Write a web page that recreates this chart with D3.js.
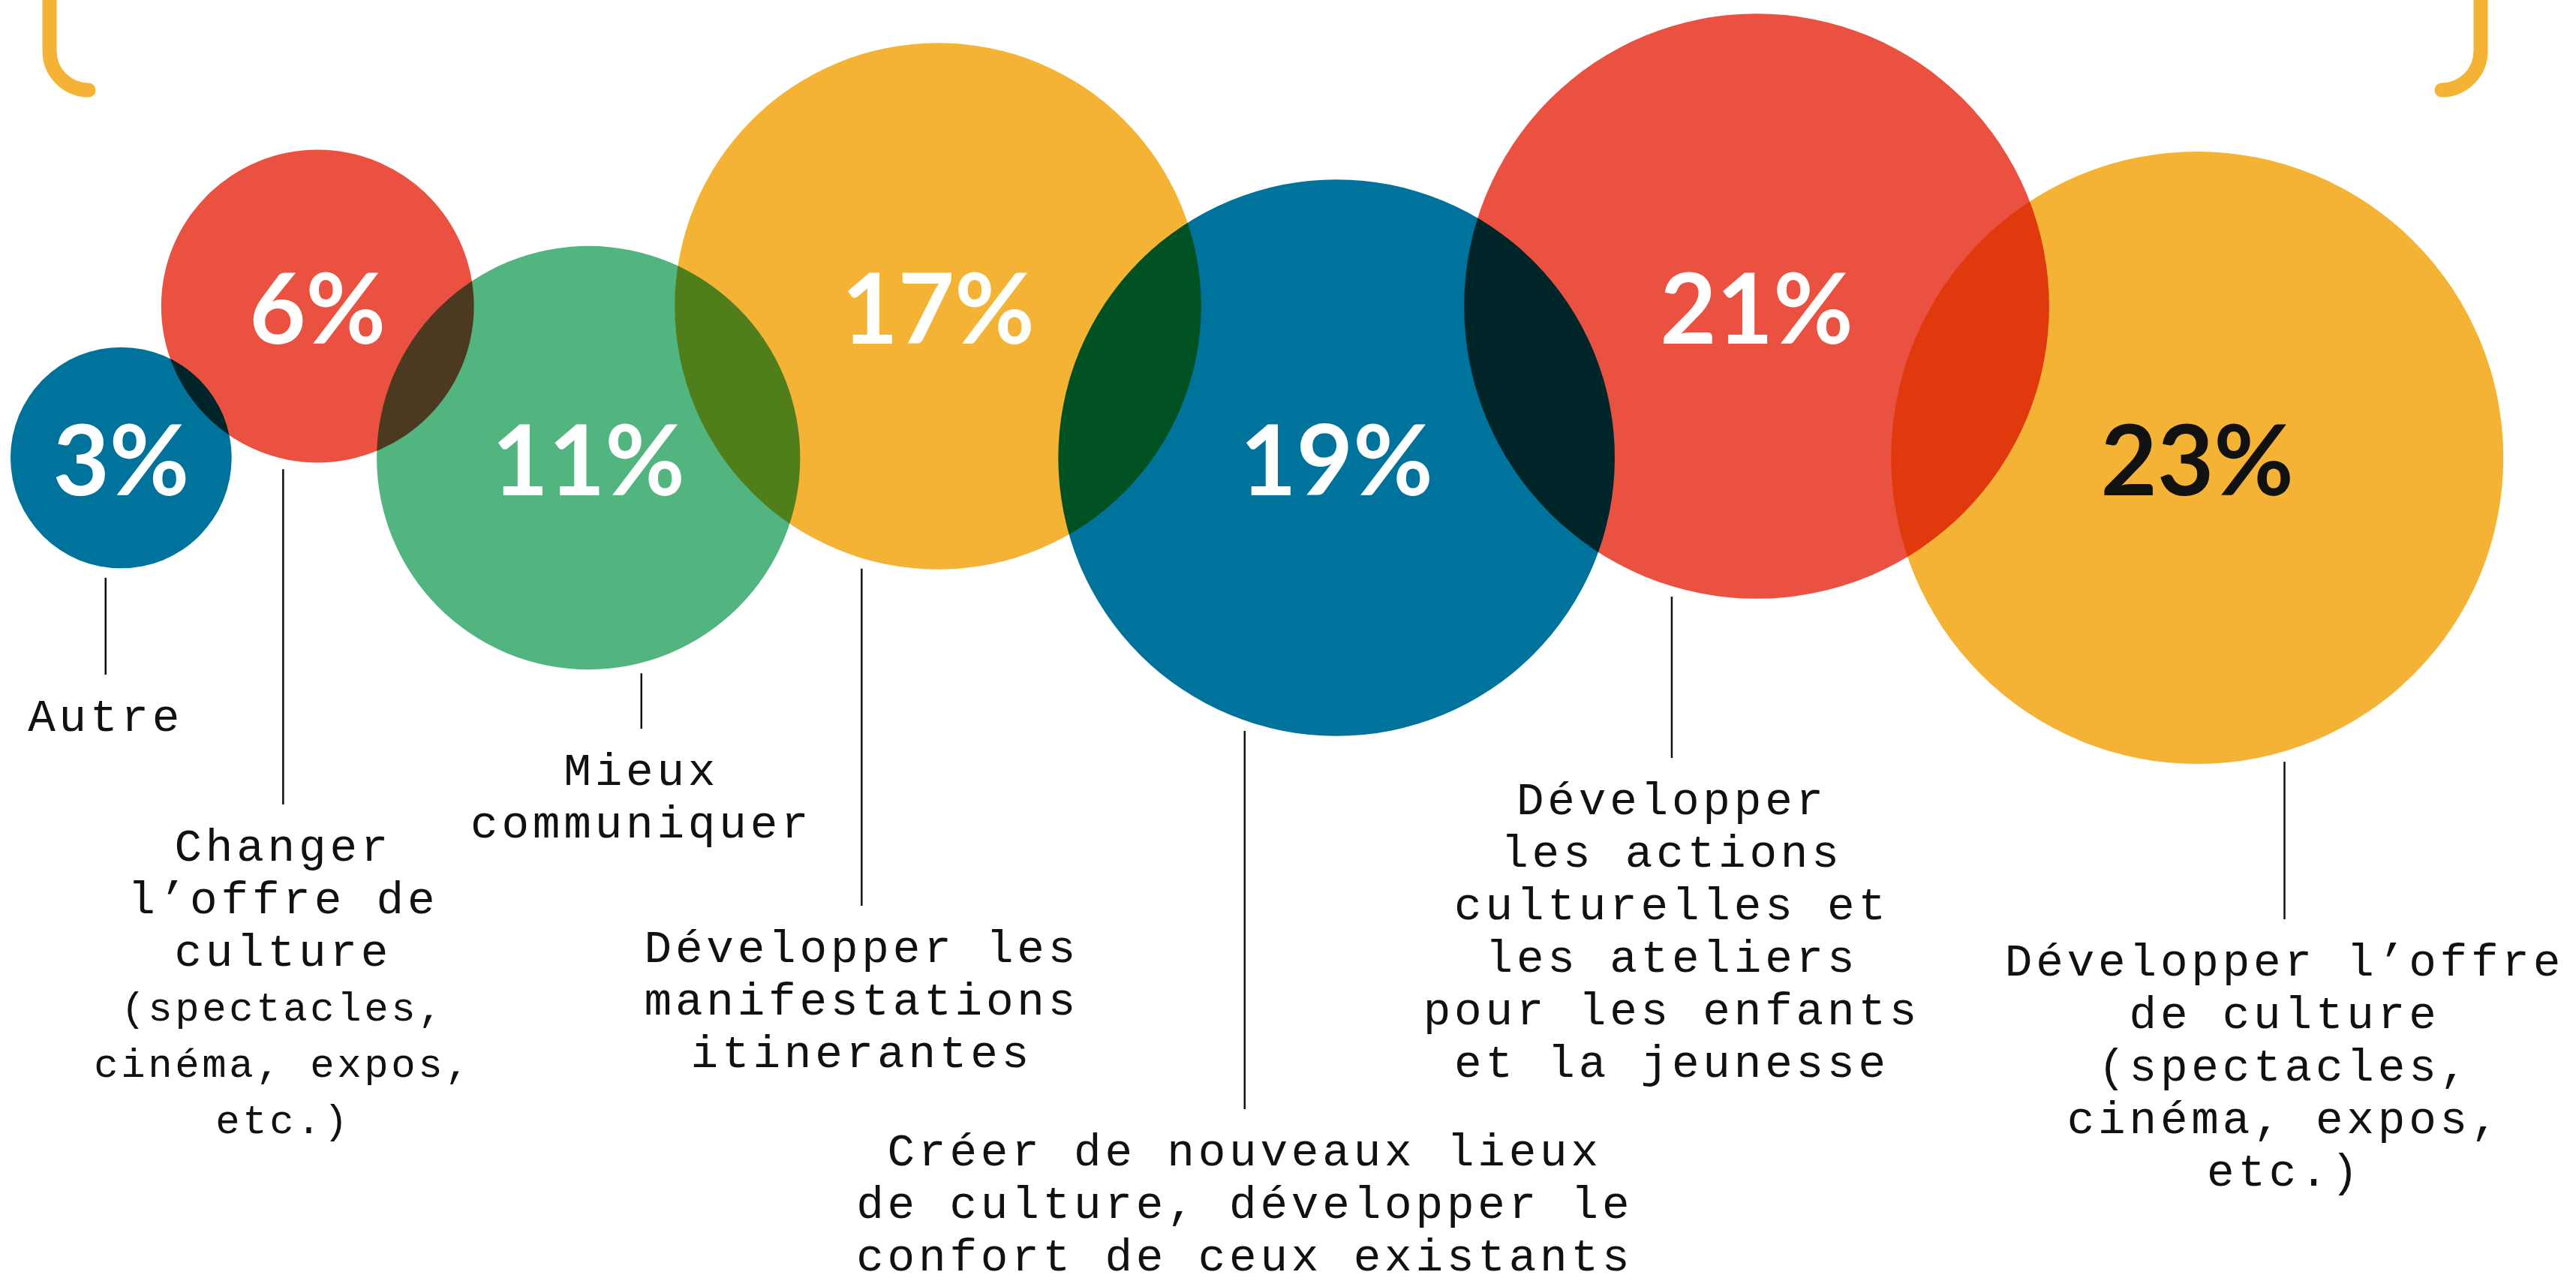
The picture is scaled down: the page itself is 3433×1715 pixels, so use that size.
<!DOCTYPE html>
<html lang="fr">
<head>
<meta charset="UTF-8">
<title>Priorités pour la culture</title>
<script src="https://d3js.org/d3.v7.min.js"></script>
<style>
  body { margin: 0; background: #fff; overflow: hidden; }
  svg { display: block; background: #fff; }
  .bubble { mix-blend-mode: multiply; }
  .pct { font-family: Lato, "Open Sans", sans-serif; font-weight: 700; font-size: 130px; }
  .label { font-family: "Liberation Mono", "DejaVu Sans Mono", monospace; font-size: 61px; letter-spacing: 4.8px; fill: #111; }
  .label .small { font-size: 54px; letter-spacing: 3.6px; }
  .leader { stroke: #111; stroke-width: 2.5; }
  .bracket { fill: none; stroke: #f5b335; stroke-width: 19; stroke-linecap: round; }
</style>
</head>
<body>
<div id="chart"></div>
<script>
// data
const categories = [
  "Autre",
  "Changer l’offre de culture (spectacles, cinéma, expos, etc.)",
  "Mieux communiquer",
  "Développer les manifestations itinerantes",
  "Créer de nouveaux lieux de culture, développer le confort de ceux existants",
  "Développer les actions culturelles et les ateliers pour les enfants et la jeunesse",
  "Développer l’offre de culture (spectacles, cinéma, expos, etc.)"
];
const values = [3, 6, 11, 17, 19, 21, 23];
const labelLines = [
  ["Autre"],
  ["Changer", "l’offre de", "culture", "(spectacles,", "cinéma, expos,", "etc.)"],
  ["Mieux", "communiquer"],
  ["Développer les", "manifestations", "itinerantes"],
  ["Créer de nouveaux lieux", "de culture, développer le", "confort de ceux existants"],
  ["Développer", "les actions", "culturelles et", "les ateliers", "pour les enfants", "et la jeunesse"],
  ["Développer l’offre", "de culture", "(spectacles,", "cinéma, expos,", "etc.)"]
];

// styles
const colors = ["#00739c", "#ea5141", "#52b47e", "#f5b335", "#00739c", "#ea5141", "#f5b335"];
const pctColors = ["#fff", "#fff", "#fff", "#fff", "#fff", "#fff", "#111"];

// callout layout: leader offset (fraction of radius), first text line y, first small line
const labelDx = [-0.14, -0.22, 0.25, -0.29, -0.33, -0.29, 0.285];
const labelTop = [957, 1130, 1029, 1265, 1536, 1068, 1283];
const smallFrom = [99, 3, 99, 99, 99, 99, 99];

const width = 3433, height = 1715;
const leftPad = 14, overlap = 0.736;
const rowY = [610, 408]; // low / high rows, circles alternate

const svg = d3.select("#chart").append("svg")
  .attr("width", width)
  .attr("height", height);

// radius scale: area proportional to share
const r = d3.scaleSqrt()
  .domain([0, d3.max(values)])
  .range([0, 408]);

// pack circles left to right with overlap, zigzag vertically
const nodes = values.map((v, i) => ({ v, i, r: r(v), name: categories[i] }));
nodes.forEach((d, i) => {
  d.x = i === 0 ? leftPad + d.r : nodes[i - 1].x + overlap * (nodes[i - 1].r + d.r);
  d.y = rowY[i % 2];
});

// top brackets
svg.append("path").attr("class", "bracket")
  .attr("d", "M66,-20V68A52,52 0 0 0 118,120");
svg.append("path").attr("class", "bracket")
  .attr("d", `M${width - 127},-20V68A52,52 0 0 1 ${width - 179},120`);

svg.append("g").selectAll("circle")
  .data(nodes)
  .join("circle")
  .attr("class", "bubble")
  .attr("cx", d => d.x)
  .attr("cy", d => d.y)
  .attr("r", d => d.r)
  .attr("fill", d => colors[d.i]);

svg.append("g").selectAll("text")
  .data(nodes)
  .join("text")
  .attr("class", "pct")
  .attr("x", d => d.x)
  .attr("y", d => d.y)
  .attr("text-anchor", "middle")
  .attr("dominant-baseline", "central")
  .attr("fill", d => pctColors[d.i])
  .text(d => d.v + "%");

// callouts: leader line + one multi-line text block each
const callouts = svg.append("g").selectAll("g")
  .data(nodes)
  .join("g");

callouts.each(function (d) {
  const g = d3.select(this);
  const dx = labelDx[d.i] * d.r;
  const lx = d.x + dx;
  const edge = d.y + Math.sqrt(d.r * d.r - dx * dx);
  const top = labelTop[d.i];

  g.append("line").attr("class", "leader")
    .attr("x1", lx).attr("x2", lx)
    .attr("y1", edge + 14)
    .attr("y2", top - 58);

  const txt = g.append("text").attr("class", "label")
    .attr("x", lx)
    .attr("y", top)
    .attr("text-anchor", "middle")
    .attr("dominant-baseline", "central");

  labelLines[d.i].forEach((line, k) => {
    const small = k >= smallFrom[d.i];
    txt.append("tspan")
      .attr("class", small ? "small" : null)
      .attr("x", lx)
      .attr("dy", k === 0 ? 0 : (small ? 75 : 70))
      .text(line);
  });
});
</script>
</body>
</html>
